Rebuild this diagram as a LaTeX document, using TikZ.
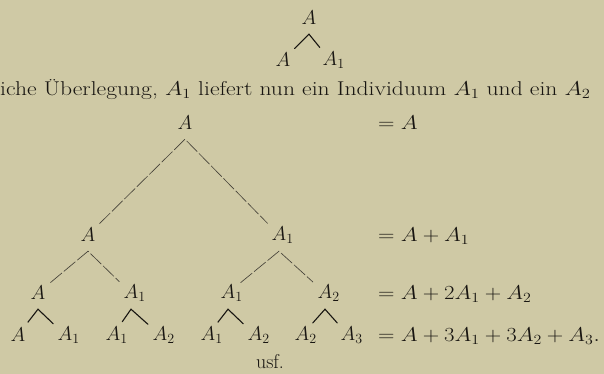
\RequirePackage{fix-cm}
\documentclass[tikz,border=0pt]{standalone}
\usepackage{amsmath}
\usepackage{graphicx}
\definecolor{paper}{RGB}{207,201,165}
\definecolor{ink}{RGB}{24,21,17}
\definecolor{inkgray}{RGB}{70,66,56}
\newcommand{\Asub}[1]{A\rlap{$_{#1}$}}
\newcommand{\wide}[1]{\scalebox{1.14}[1]{#1}}

\begin{document}
\begin{tikzpicture}[x=1pt,y=-1pt]
\tikzset{
  treenode/.style={circle,minimum size=32pt,inner sep=0pt,text=ink,font=\fontsize{20}{24}\selectfont},
  plaintext/.style={inner sep=0pt,text=ink,font=\fontsize{20}{24}\selectfont},
  sumtext/.style={plaintext,anchor=base west},
  caret/.style={draw=ink,line width=1.1pt,line cap=round,line join=miter},
  longbranch/.style={draw=inkgray,line width=0.65pt,dash pattern=on 15pt off 2.5pt}
}
\fill[paper] (0,0) rectangle (604,374);
\useasboundingbox (0,0) rectangle (604,374);
% small tree at the top
\node[treenode] (t0) at (309,18) {$A$};
\node[treenode] (t1) at (283,60) {$A$};
\node[treenode] (t2) at (330,60) {$\Asub{1}$};
\draw[caret] (t1) -- (t0.south) -- (t2);
% running text
\node[plaintext,anchor=base west] (line) at (0,96) {\scalebox{1.18}[1]{iche Überlegung, $A_1$ liefert nun ein Individuum $A_1$ und ein $A_2$}};
% big tree
\node[treenode] (b0) at (185,123) {$A$};
\node[treenode] (b1) at (88,235) {$A$};
\node[treenode] (b2) at (279,235) {$\Asub{1}$};
\node[treenode] (c1) at (38,293) {$A$};
\node[treenode] (c2) at (131,293) {$\Asub{1}$};
\node[treenode] (c3) at (228,293) {$\Asub{1}$};
\node[treenode] (c4) at (325,293) {$\Asub{2}$};
\node[treenode] (d1) at (18,335) {$A$};
\node[treenode] (d2) at (65,335) {$\Asub{1}$};
\node[treenode] (d3) at (113,335) {$\Asub{1}$};
\node[treenode] (d4) at (160,335) {$\Asub{2}$};
\node[treenode] (d5) at (208,335) {$\Asub{1}$};
\node[treenode] (d6) at (255,335) {$\Asub{2}$};
\node[treenode] (d7) at (302,335) {$\Asub{2}$};
\node[treenode] (d8) at (348,335) {$\Asub{3}$};
\draw[longbranch] (b1) -- (b0.south) -- (b2);
\draw[longbranch] (c1) -- (b1.south) -- (c2);
\draw[longbranch] (c3) -- (b2.south) -- (c4);
\draw[caret] (d1) -- (c1.south) -- (d2);
\draw[caret] (d3) -- (c2.south) -- (d4);
\draw[caret] (d5) -- (c3.south) -- (d6);
\draw[caret] (d7) -- (c4.south) -- (d8);
% sums of each row
\node[sumtext] (s0) at (378,0 |- b0.base) {\wide{$= A$}};
\node[sumtext] (s1) at (378,0 |- b1.base) {\wide{$= A+A_1$}};
\node[sumtext] (s2) at (378,0 |- c1.base) {\wide{$= A+2A_1+A_2$}};
\node[sumtext] (s3) at (378,0 |- d1.base) {\wide{$= A+3A_1+3A_2+A_3.$}};
\node[plaintext] (usf) at (270,362) {usf.};
\end{tikzpicture}
\end{document}
